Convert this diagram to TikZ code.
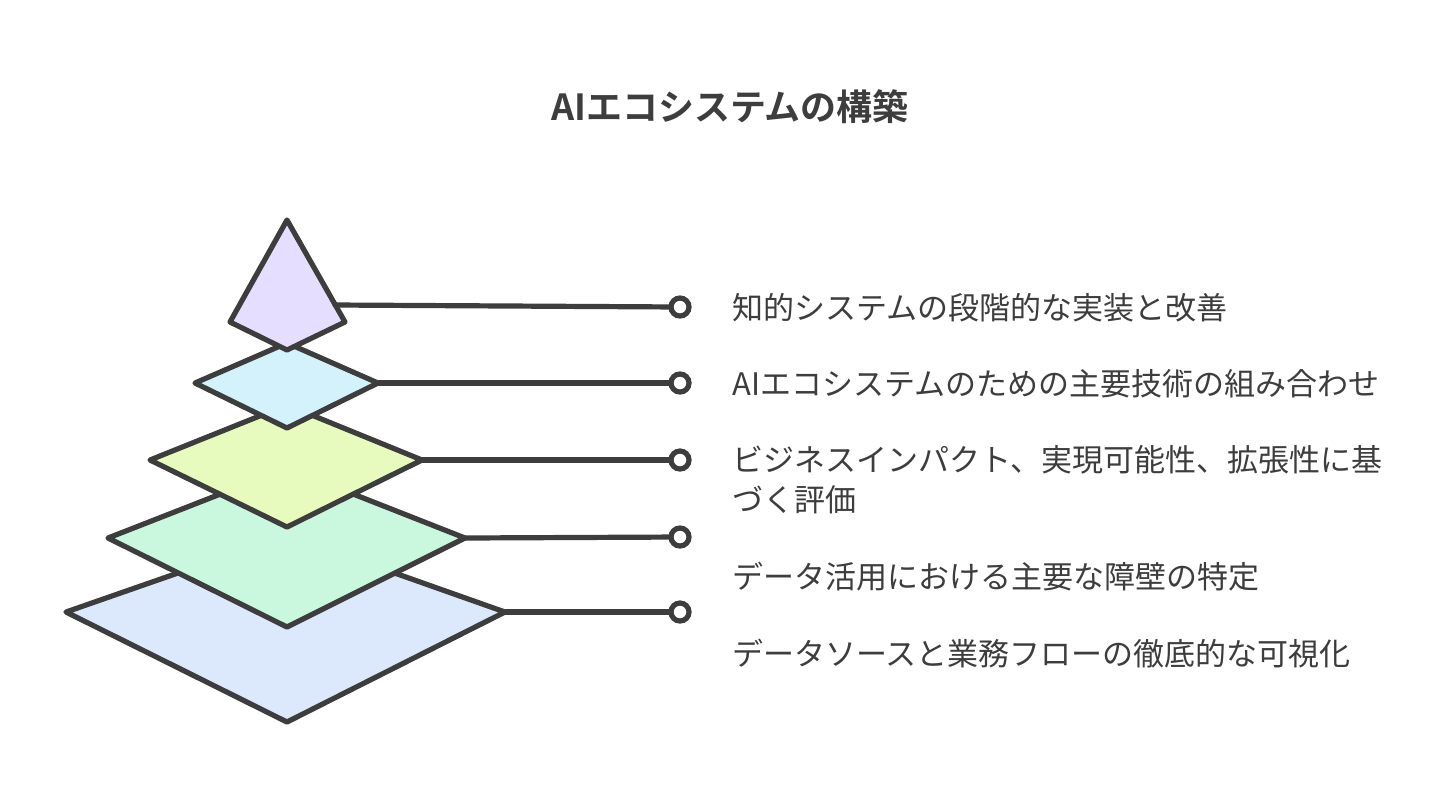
\documentclass[tikz,border=0pt]{standalone}
\usepackage{fontspec}
\setmainfont{Noto Sans CJK JP}
\newfontfamily\titlefont[BoldFont={Noto Sans CJK JP Bold}]{Noto Sans CJK JP}
\definecolor{ink}{HTML}{3D3D3D}
\definecolor{fA}{HTML}{E6DEFF}
\definecolor{fB}{HTML}{D3F2FC}
\definecolor{fC}{HTML}{E7FBBE}
\definecolor{fD}{HTML}{C9F8DF}
\definecolor{fE}{HTML}{DCE8FC}
\tikzset{
  layer/.style={draw=ink,line width=2.6pt,line join=round},
  link/.style={draw=ink,line width=2.6pt,line cap=round},
  dot/.style={circle,draw=ink,line width=2.6pt,fill=white,minimum size=9pt,inner sep=0pt},
  lab/.style={anchor=west,font=\fontsize{15.5pt}{20pt}\selectfont,text=ink,inner sep=0pt,align=left}
}
\begin{document}
\begin{tikzpicture}[x=0.5pt,y=-0.5pt]
\useasboundingbox[fill=white] (0,0) rectangle (1456,805);
\node[font=\titlefont\bfseries\fontsize{18pt}{22pt}\selectfont,text=ink] (title) at (730,107) {AIエコシステムの構築};
% layer 5 (bottom)
\coordinate (e5l) at (66,612); \coordinate (e5t) at (287,535);
\coordinate (e5r) at (505,612); \coordinate (e5b) at (287,722);
\draw[layer,fill=fE] (e5l)--(e5t)--(e5r)--(e5b)--cycle;
% layer 4
\coordinate (e4l) at (108,538); \coordinate (e4t) at (287,468);
\coordinate (e4r) at (465,538); \coordinate (e4b) at (287,627);
\draw[layer,fill=fD] (e4l)--(e4t)--(e4r)--(e4b)--cycle;
% layer 3
\coordinate (e3l) at (150,460); \coordinate (e3t) at (287,405);
\coordinate (e3r) at (422,460); \coordinate (e3b) at (287,527);
\draw[layer,fill=fC] (e3l)--(e3t)--(e3r)--(e3b)--cycle;
% layer 2
\coordinate (e2l) at (195,383); \coordinate (e2t) at (287,343);
\coordinate (e2r) at (378,383); \coordinate (e2b) at (287,428);
\draw[layer,fill=fB] (e2l)--(e2t)--(e2r)--(e2b)--cycle;
% top triangle
\coordinate (e1t) at (287,220); \coordinate (e1l) at (230,322);
\coordinate (e1r) at (345,322); \coordinate (e1b) at (287,350);
\draw[layer,fill=fA] (e1t)--(e1r)--(e1b)--(e1l)--cycle;
\coordinate (e1m) at (335,305);
% dots
\node[dot] (c1) at (680,307) {};
\node[dot] (c2) at (680,383) {};
\node[dot] (c3) at (680,460) {};
\node[dot] (c4) at (680,537) {};
\node[dot] (c5) at (680,612) {};
\draw[link] (e1m) -- (c1);
\draw[link] (e2r) -- (c2);
\draw[link] (e3r) -- (c3);
\draw[link] (e4r) -- (c4);
\draw[link] (e5r) -- (c5);
% labels
\node[lab] (t1) at (732,308) {知的システムの段階的な実装と改善};
\node[lab] (t2) at (732,384) {AIエコシステムのための主要技術の組み合わせ};
\node[lab] (t3) at (732,480) {ビジネスインパクト、実現可能性、拡張性に基\\づく評価};
\node[lab] (t4) at (732,577) {データ活用における主要な障壁の特定};
\node[lab] (t5) at (732,654) {データソースと業務フローの徹底的な可視化};
\end{tikzpicture}
\end{document}
